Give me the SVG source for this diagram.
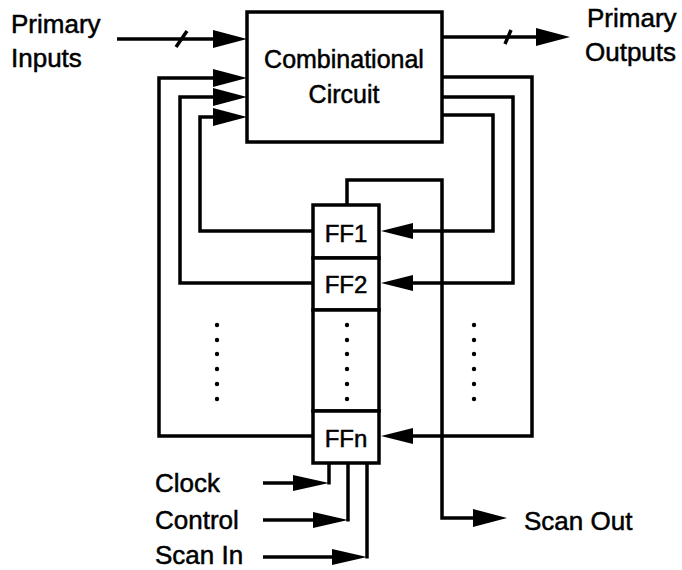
<svg xmlns="http://www.w3.org/2000/svg" width="682" height="570" viewBox="0 0 682 570">
<style>
.t{font-family:"Liberation Sans",Arial,Helvetica,sans-serif;font-size:26px;fill:#000;stroke:#000;stroke-width:0.5}
.ff{font-family:"Liberation Sans",Arial,Helvetica,sans-serif;font-size:24px;fill:#000;stroke:#000;stroke-width:0.5;text-anchor:middle}
.w{fill:none;stroke:#000;stroke-width:3.5;stroke-linejoin:miter}
.box{fill:#fff;stroke:#000;stroke-width:3.5}
.ah{fill:#000}
.dot{fill:#000}
</style>
<rect width="682" height="570" fill="#fff"/>
<g id="connectors">
<path class="w" d="M117,39 H216"/>
<polygon class="ah" points="247,39 213,30 213,48"/>
<path class="w" d="M176,47 L187,31"/>
<path class="w" d="M313,436 H159 V78 H216"/>
<polygon class="ah" points="247,78 213,69 213,87"/>
<path class="w" d="M313,283 H180 V97 H216"/>
<polygon class="ah" points="247,97 213,88 213,106"/>
<path class="w" d="M313,231 H200 V117 H216"/>
<polygon class="ah" points="247,117 213,108 213,126"/>
<path class="w" d="M442,37 H540"/>
<polygon class="ah" points="570,37 536,28 536,46"/>
<path class="w" d="M505,44 L511,30"/>
<path class="w" d="M442,77 H532 V436 H410"/>
<polygon class="ah" points="381,436 413,428 413,444"/>
<path class="w" d="M442,97 H513 V283 H410"/>
<polygon class="ah" points="381,283 413,275 413,291"/>
<path class="w" d="M442,115 H493 V231 H410"/>
<polygon class="ah" points="381,231 413,223 413,239"/>
<path class="w" d="M347,205 V180 H442 V518 H476"/>
<polygon class="ah" points="507,518 473,509 473,527"/>
<path class="w" d="M263,483 H296"/>
<polygon class="ah" points="329,483 293,475 293,491"/>
<path class="w" d="M329,484.5 V463"/>
<path class="w" d="M263,520 H316"/>
<polygon class="ah" points="348,520 313,512 313,528"/>
<path class="w" d="M348,521.5 V463"/>
<path class="w" d="M263,557 H336"/>
<polygon class="ah" points="367,557 332,549 332,565"/>
<path class="w" d="M367,558.5 V463"/>
</g>
<g id="comb">
<rect class="box" x="247" y="12" width="195" height="130"/>
<text class="t" x="344" y="68" text-anchor="middle" style="font-size:25px">Combinational</text>
<text class="t" x="344" y="103" text-anchor="middle" style="font-size:25px">Circuit</text>
</g>
<g id="ff1">
<rect class="box" x="313" y="205" width="66" height="53"/>
<text class="ff" x="346" y="242">FF1</text>
</g>
<g id="ff2">
<rect class="box" x="313" y="258" width="66" height="52"/>
<text class="ff" x="346" y="293">FF2</text>
</g>
<g id="ffdots">
<rect class="box" x="313" y="310" width="66" height="101"/>
<circle class="dot" cx="347" cy="325" r="2.2"/><circle class="dot" cx="347" cy="340" r="2.2"/><circle class="dot" cx="347" cy="354" r="2.2"/><circle class="dot" cx="347" cy="369" r="2.2"/><circle class="dot" cx="347" cy="384" r="2.2"/><circle class="dot" cx="347" cy="399" r="2.2"/>
</g>
<g id="ffn">
<rect class="box" x="313" y="411" width="66" height="52"/>
<text class="ff" x="346" y="447">FFn</text>
</g>
<g id="dots-left">
<circle class="dot" cx="217" cy="325" r="2.2"/><circle class="dot" cx="217" cy="340" r="2.2"/><circle class="dot" cx="217" cy="354" r="2.2"/><circle class="dot" cx="217" cy="369" r="2.2"/><circle class="dot" cx="217" cy="384" r="2.2"/><circle class="dot" cx="217" cy="399" r="2.2"/>
</g>
<g id="dots-right">
<circle class="dot" cx="474" cy="325" r="2.2"/><circle class="dot" cx="474" cy="340" r="2.2"/><circle class="dot" cx="474" cy="354" r="2.2"/><circle class="dot" cx="474" cy="369" r="2.2"/><circle class="dot" cx="474" cy="384" r="2.2"/><circle class="dot" cx="474" cy="399" r="2.2"/>
</g>
<g id="labels">
<text class="t" x="11" y="33">Primary</text>
<text class="t" x="11" y="67">Inputs</text>
<text class="t" x="587" y="27">Primary</text>
<text class="t" x="585" y="61">Outputs</text>
<text class="t" x="155" y="492">Clock</text>
<text class="t" x="155" y="529">Control</text>
<text class="t" x="155" y="564">Scan In</text>
<text class="t" x="524" y="530">Scan Out</text>
</g>
</svg>
